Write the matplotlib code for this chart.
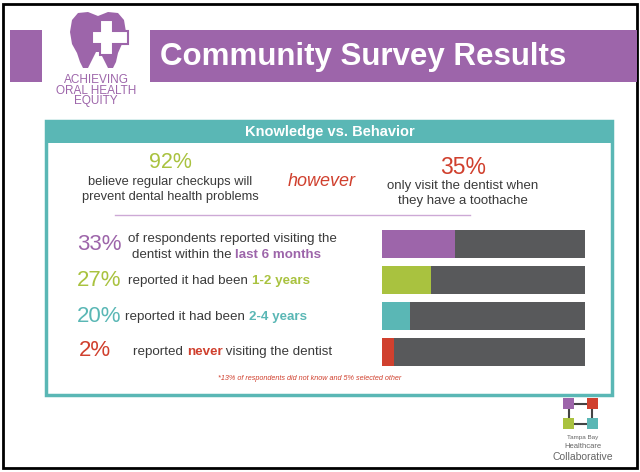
import matplotlib.pyplot as plt
from matplotlib.patches import Rectangle, Polygon

plt.rcParams['font.family'] = ['Liberation Sans', 'DejaVu Sans']

PURPLE = '#9D65AA'
GREEN = '#A9C23F'
TEAL = '#5AB7B5'
RED = '#D0402E'
DARK = '#58595B'
TXT = '#3A3A3A'

# data
headline_pcts = ['92%', '35%']
headline_text = [['believe regular checkups will', 'prevent dental health problems'],
                 ['only visit the dentist when', 'they have a toothache']]
row_pcts = ['33%', '27%', '20%', '2%']
row_colors = [PURPLE, GREEN, TEAL, RED]
# filled share of each bar as drawn in the picture
bar_fill = [36, 24, 14, 6]
footnote = '*13% of respondents did not know and 5% selected other'

fig = plt.figure(figsize=(6.4, 4.72), dpi=100)
ax = fig.add_axes([0, 0, 1, 1])
ax.set_xlim(0, 640)
ax.set_ylim(472, 0)
ax.axis('off')

# frame and title banner
ax.add_patch(Rectangle((3, 4), 634, 464, fill=False, ec='black', lw=2))
ax.add_patch(Rectangle((10, 30), 32, 52, color=PURPLE, lw=0))
ax.add_patch(Rectangle((150, 30), 487, 52, color=PURPLE, lw=0))
ax.text(160, 57, 'Community Survey Results', color='white', fontsize=22.5,
        fontweight='bold', va='center', ha='left')

# tooth logo
tooth = [(72, 20), (78, 13), (88, 12), (98, 16), (108, 12), (118, 13), (124, 20),
         (126, 32), (122, 44), (118, 53), (116, 62), (113, 68), (108, 68), (104, 60),
         (100, 52), (96, 52), (92, 60), (88, 68), (83, 68), (80, 62), (77, 53),
         (72, 44), (70, 32)]
ax.add_patch(Polygon(tooth, closed=True, color=PURPLE, lw=0))
cross = [(100, 20), (113, 20), (113, 31), (128, 31), (128, 44), (113, 44), (113, 55),
         (100, 55), (100, 44), (92, 44), (92, 31), (100, 31)]
ax.add_patch(Polygon(cross, closed=True, fc='white', ec=PURPLE, lw=1.5))
for i, s in enumerate(['ACHIEVING', 'ORAL HEALTH', 'EQUITY']):
    ax.text(96, 80 + i * 10.5, s, color=PURPLE, fontsize=8.5, ha='center', va='center')

# teal box
ax.add_patch(Rectangle((46, 121), 566, 274, fill=False, ec=TEAL, lw=2.5))
ax.add_patch(Rectangle((46, 121), 566, 22, color=TEAL, lw=0))
ax.text(330, 132, 'Knowledge vs. Behavior', color='white', fontsize=10.5,
        fontweight='bold', ha='center', va='center')

# headline comparison
ax.text(170, 163, headline_pcts[0], color=GREEN, fontsize=15.5, ha='center', va='center')
for i, s in enumerate(headline_text[0]):
    ax.text(170, 182 + i * 15, s, color=TXT, fontsize=9.3, ha='center', va='center')
ax.text(322, 181, 'however', color=RED, fontsize=13, style='italic', ha='center', va='center')
ax.text(463, 168, headline_pcts[1], color=RED, fontsize=16.5, ha='center', va='center')
for i, s in enumerate(headline_text[1]):
    ax.text(463, 186 + i * 15, s, color=TXT, fontsize=9.5, ha='center', va='center')
ax.plot([115, 470], [215, 215], color='#CDA9D6', lw=1)


def rich_line(x, y, parts):
    """ Writes text pieces one after another, each in its own colour. """
    t = None
    for s, c, w in parts:
        if t is None:
            t = ax.text(x, y, s, color=c, fontweight=w, fontsize=9.6,
                        ha='left', va='baseline')
        else:
            t = ax.annotate(s, xy=(1, 0), xycoords=t, color=c, fontweight=w,
                            fontsize=9.6, ha='left', va='bottom')


row_y = [244, 280, 316, 351]
for p, c, y in zip(row_pcts, row_colors, row_y):
    ax.text(77 if p != '2%' else 79, y, p, color=c, fontsize=16, ha='left', va='center')

rich_line(128, 242, [('of respondents reported visiting the', TXT, 'normal')])
rich_line(132, 258, [('dentist within the ', TXT, 'normal'), ('last 6 months', PURPLE, 'bold')])
rich_line(128, 284, [('reported it had been ', TXT, 'normal'), ('1-2 years', GREEN, 'bold')])
rich_line(125, 320, [('reported it had been ', TXT, 'normal'), ('2-4 years', TEAL, 'bold')])
rich_line(133, 355, [('reported ', TXT, 'normal'), ('never', RED, 'bold'),
                     (' visiting the dentist', TXT, 'normal')])

ax.text(310, 378, footnote, color=RED, fontsize=5.2, style='italic', ha='center', va='center')

# bars
axb = fig.add_axes([382 / 640, 1 - 370 / 472, 203 / 640, 144 / 472])
pos = range(len(bar_fill))
axb.barh(pos, [100] * len(bar_fill), height=0.76, color=DARK)
axb.barh(pos, bar_fill, height=0.76, color=row_colors)
axb.set_xlim(0, 100)
axb.set_ylim(3.5, -0.5)
axb.axis('off')

# collaborative logo
ax.plot([569, 592, 592, 569, 569], [404, 404, 424, 424, 404], color='#444444', lw=1.5, zorder=2)
for (x0, y0), c in zip([(563, 398), (587, 398), (563, 418), (587, 418)],
                       [PURPLE, RED, GREEN, TEAL]):
    ax.add_patch(Rectangle((x0, y0), 11, 11, color=c, lw=0, zorder=3))
ax.text(583, 437, 'Tampa Bay', color='#666666', fontsize=4.5, ha='center', va='center')
ax.text(583, 446, 'Healthcare', color='#666666', fontsize=5.5, ha='center', va='center')
ax.text(583, 457, 'Collaborative', color='#666666', fontsize=7.5, ha='center', va='center')

fig.savefig('out.png', dpi=100)
